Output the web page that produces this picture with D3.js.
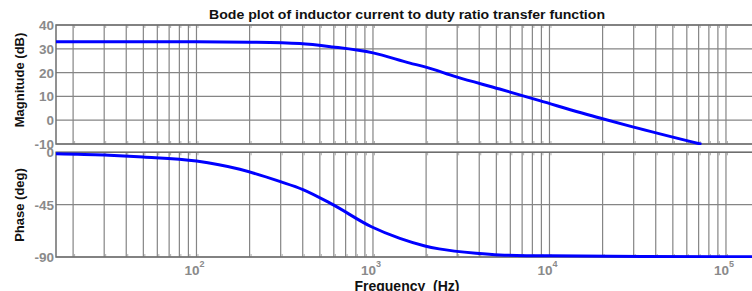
<!DOCTYPE html>
<html>
<head>
<meta charset="utf-8">
<script src="https://cdn.jsdelivr.net/npm/d3@7"></script>
<style>
  html, body { margin: 0; padding: 0; background: #fff; }
  svg { display: block; font-family: "Liberation Sans", Arial, sans-serif; }
</style>
</head>
<body>
<div id="chart"></div>
<script>
// values
const freqMag = [16, 50, 100, 200, 385, 590, 1000, 1620, 1970, 2970, 5220, 8800, 19300, 29600, 72600];
const magDb   = [33.0, 33.0, 33.0, 32.8, 32.2, 30.8, 28.3, 24.0, 22.4, 18.2, 13.1, 8.2, 0.9, -2.8, -10.1];

const freqPhase = [16, 30, 50, 100, 176, 296, 401, 593, 980, 1420, 1970, 2370, 3840, 5220, 10000, 100000, 160000];
const phaseDeg  = [-1.2, -2.3, -4, -7.5, -14.6, -25, -32, -45, -64, -74, -80.5, -83, -86.8, -88.2, -89, -89.7, -89.8];

const magTicks = [40, 30, 20, 10, 0, -10];
const phaseTicks = [0, -45, -90];
const decadeLabels = [2, 3, 4, 5];

const title = "Bode plot of inductor current to duty ratio transfer function";

const W = 752, H = 291;
const left = 56, right = 762;
const magTop = 25, magBottom = 144;
const phTop = 152.3, phBottom = 257;

const svg = d3.select("#chart").append("svg")
  .attr("width", W).attr("height", H);

const x = d3.scaleLog().domain([16, 1.6e5]).range([left, right]);
const yMag = d3.scaleLinear().domain([-10, 40]).range([magBottom, magTop]);
const yPh = d3.scaleLinear().domain([-90, 0]).range([phBottom, phTop]);

// every 1..9 x 10^n inside the domain
const gridFreqs = x.ticks().filter(f => f >= 16 && f <= 1.6e5);

function panel(y, top, bottom, ticks, freqs, vals, id) {
  const g = svg.append("g");
  // vertical grid
  g.selectAll(".vg").data(gridFreqs).enter().append("line")
    .attr("x1", d => x(d)).attr("x2", d => x(d))
    .attr("y1", top).attr("y2", bottom)
    .attr("stroke", "#858585").attr("stroke-width", 1.2);
  // horizontal grid
  g.selectAll(".hg").data(ticks).enter().append("line")
    .attr("x1", left).attr("x2", right)
    .attr("y1", d => y(d)).attr("y2", d => y(d))
    .attr("stroke", "#858585").attr("stroke-width", 1.2);
  // small inward tick marks top and bottom
  g.selectAll(".tt").data(gridFreqs).enter().append("line")
    .attr("x1", d => x(d) + 1.5).attr("x2", d => x(d) + 1.5)
    .attr("y1", top).attr("y2", top + 3)
    .attr("stroke", "#999").attr("stroke-width", 0.8);
  g.selectAll(".tb").data(gridFreqs).enter().append("line")
    .attr("x1", d => x(d) + 1.5).attr("x2", d => x(d) + 1.5)
    .attr("y1", bottom).attr("y2", bottom - 3)
    .attr("stroke", "#999").attr("stroke-width", 0.8);
  // frame
  g.append("path")
    .attr("d", `M${right},${top}H${left}V${bottom}H${right}`)
    .attr("fill", "none").attr("stroke", "#6e6e6e").attr("stroke-width", 1.5);
  // tick labels
  g.selectAll(".yl").data(ticks).enter().append("text")
    .attr("x", 54).attr("y", d => y(d) + 5)
    .attr("text-anchor", "end")
    .attr("font-size", 13.5).attr("font-weight", "bold")
    .attr("fill", "#8a8a8a")
    .text(d => d);

  svg.append("clipPath").attr("id", id)
    .append("rect").attr("x", left).attr("y", top - 2)
    .attr("width", right - left).attr("height", bottom - top + 3);

  const line = d3.line()
    .x(d => x(d[0])).y(d => y(d[1]))
    .curve(d3.curveMonotoneX);
  svg.append("path")
    .datum(freqs.map((f, i) => [f, vals[i]]))
    .attr("clip-path", `url(#${id})`)
    .attr("d", line)
    .attr("fill", "none").attr("stroke", "#0000ff").attr("stroke-width", 3);
}

panel(yMag, magTop, magBottom, magTicks, freqMag, magDb, "clipMag");
panel(yPh, phTop, phBottom, phaseTicks, freqPhase, phaseDeg, "clipPh");

// decade labels 10^n
const xl = svg.selectAll(".xl").data(decadeLabels).enter().append("text")
  .attr("x", d => x(Math.pow(10, d)) - 12).attr("y", 275)
  .attr("font-size", 13.5).attr("font-weight", "bold")
  .attr("fill", "#8a8a8a");
xl.append("tspan").text("10");
xl.append("tspan").attr("dy", -8).attr("font-size", 9).text(d => d);

// titles
svg.append("text")
  .attr("x", 407).attr("y", 18.5)
  .attr("text-anchor", "middle")
  .attr("font-size", 12).attr("font-weight", "bold")
  .attr("fill", "#111")
  .attr("textLength", 396).attr("lengthAdjust", "spacingAndGlyphs")
  .text(title);

svg.append("text")
  .attr("transform", "translate(24,80) rotate(-90)")
  .attr("text-anchor", "middle")
  .attr("font-size", 13).attr("font-weight", "bold")
  .attr("fill", "#111")
  .text("Magnitude (dB)");

svg.append("text")
  .attr("transform", "translate(24,205) rotate(-90)")
  .attr("text-anchor", "middle")
  .attr("font-size", 13).attr("font-weight", "bold")
  .attr("fill", "#111")
  .text("Phase (deg)");

svg.append("text")
  .attr("x", 407).attr("y", 291)
  .attr("text-anchor", "middle")
  .attr("font-size", 14).attr("font-weight", "bold")
  .attr("fill", "#111")
  .attr("xml:space", "preserve")
  .text("Frequency  (Hz)");
</script>
</body>
</html>
